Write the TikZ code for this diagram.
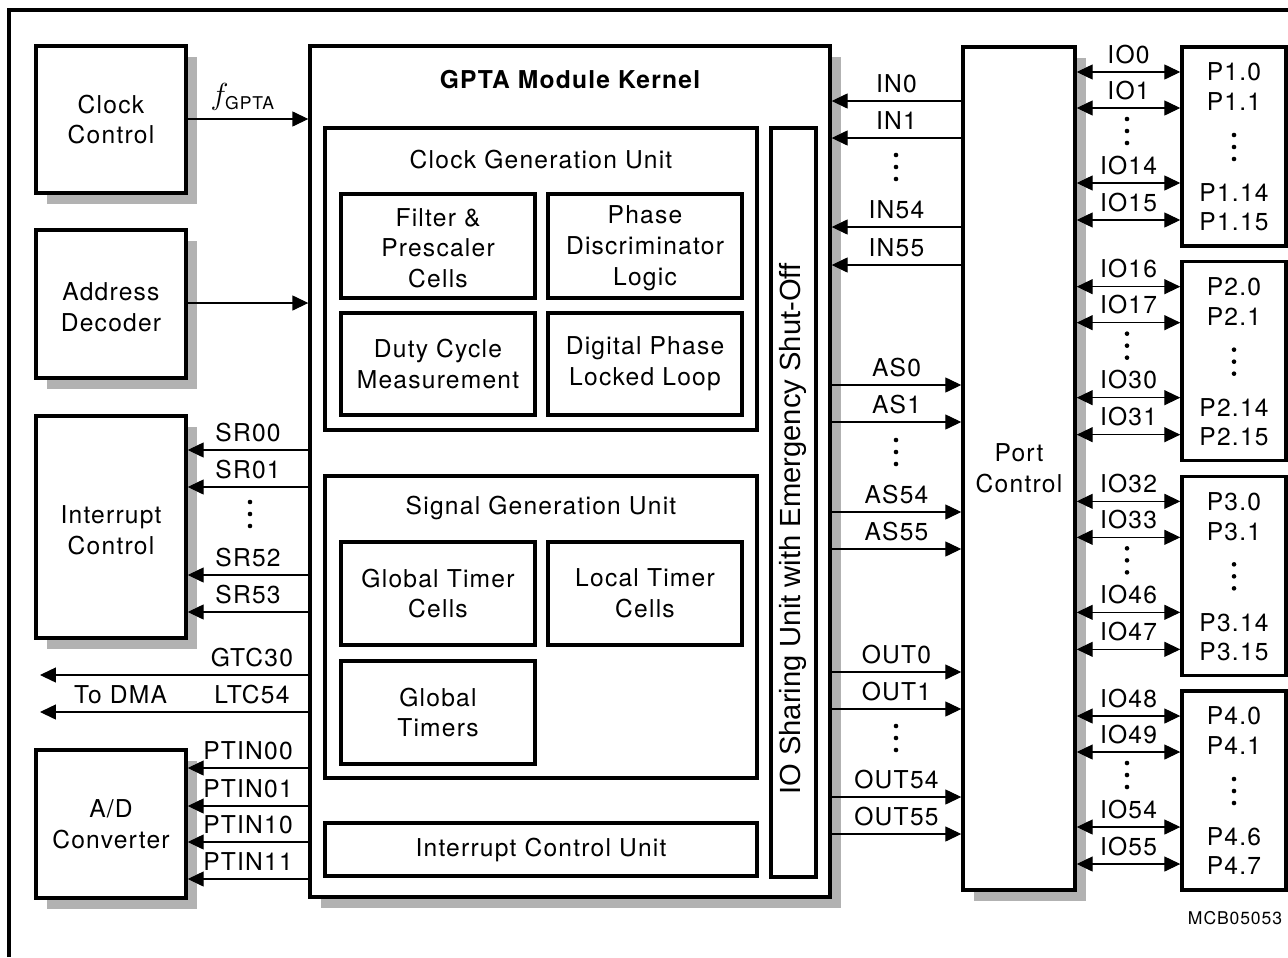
\documentclass[tikz,border=0pt]{standalone}
\usepackage{fontspec}
\setmainfont{TeX Gyre Heros}[LetterSpace=5]
\newfontfamily\iosfont{Liberation Sans}
\usetikzlibrary{arrows.meta,shadows}

\tikzset{
  blk/.style={draw, line width=2pt, fill=white, align=center, inner sep=0pt,
    font=\fontsize{14}{17.5}\selectfont},
  shd/.style={drop shadow={shadow xshift=0.22cm, shadow yshift=-0.22cm,
    fill=black!30, opacity=1}},
  sig/.style={line width=0.6pt, -{Triangle[length=9pt,width=8.5pt]}},
  bisig/.style={line width=0.6pt,
    {Triangle[length=9pt,width=8.5pt]}-{Triangle[length=9pt,width=8.5pt]}},
  lbl/.style={above, inner sep=0pt, yshift=4.5pt, font=\fontsize{14}{17}\selectfont},
  txt/.style={align=center, inner sep=0pt, font=\fontsize{14}{17.5}\selectfont},
}
% three stacked dots around (x,y)
\newcommand\vdotsat[2]{\fill (#1,#2-12) circle (2.3) (#1,#2) circle (2.3) (#1,#2+12) circle (2.3);}

\begin{document}
\begin{tikzpicture}[x=0.02cm, y=-0.02cm]
    \useasboundingbox (0,0) rectangle (1288,957);
    % Frame
    \draw[line width=1.8pt] (9,957) -- (9,10) -- (1288,10);

    % Left blocks
    \node[blk, shd, minimum width=3cm, minimum height=2.94cm] (clk) at (111,119.5) {Clock\\Control};
    \node[blk, shd, minimum width=3cm, minimum height=2.96cm] (adr) at (111,304) {};
    \node[txt] (adrt) at (111,307) {Address\\Decoder};
    \node[blk, shd, minimum width=3cm, minimum height=4.44cm] (intc) at (111,527) {};
    \node[txt] (intct) at (111,530) {Interrupt\\Control};
    \node[blk, shd, minimum width=3cm, minimum height=2.96cm] (adc) at (111,824) {A/D\\Converter};

    % GPTA kernel
    \node[blk, shd, minimum width=10.4cm, minimum height=17.02cm] (kern) at (570,471.5) {};
    \node[txt, font=\fontsize{14}{17}\selectfont\bfseries] (kernt) at (570,80) {GPTA Module Kernel};

    \node[blk, minimum width=8.64cm, minimum height=6.04cm] (cgu) at (541,279) {};
    \node[txt] (cgut) at (541,160) {Clock Generation Unit};
    \node[blk, minimum width=3.88cm, minimum height=2.08cm] (flt) at (438,246) {};
    \node[txt] (fltt) at (438,248) {Filter \&\\Prescaler\\Cells};
    \node[blk, minimum width=3.88cm, minimum height=2.08cm] (phd) at (645,246) {};
    \node[txt] (phdt) at (645,248) {Phase\\Discriminator\\Logic};
    \node[blk, minimum width=3.88cm, minimum height=2.04cm] (dcm) at (438,364) {Duty Cycle\\Measurement};
    \node[blk, minimum width=3.88cm, minimum height=2.04cm] (dpll) at (645,364) {Digital Phase\\Locked Loop};

    \node[blk, minimum width=8.64cm, minimum height=6.04cm] (sgu) at (541,627) {};
    \node[txt] (sgut) at (541,508) {Signal Generation Unit};
    \node[blk, minimum width=3.88cm, minimum height=2.06cm] (gtc) at (438,593.5) {Global Timer\\Cells};
    \node[blk, minimum width=3.88cm, minimum height=2.06cm] (ltc) at (645,593.5) {Local Timer\\Cells};
    \node[blk, minimum width=3.88cm, minimum height=2.06cm] (gt) at (438,712.5) {Global\\Timers};

    \node[blk, minimum width=8.64cm, minimum height=1.06cm] (icu) at (541,849.5) {Interrupt Control Unit};

    \node[blk, minimum width=0.9cm, minimum height=14.98cm] (ios) at (793.5,502.5) {};
    \node[rotate=90, inner sep=0pt, font=\iosfont\fontsize{16.6}{18}\selectfont] (iost) at (793,529)
        {IO Sharing Unit with Emergency Shut-Off};

    % Port control
    \node[blk, shd, minimum width=2.24cm, minimum height=16.86cm] (port) at (1019,468.5) {Port\\Control};

    % Clock and address
    \draw[sig] (clk.east |- 0,119) -- node[lbl, xshift=-3pt]
        {\fontsize{18}{18}\selectfont$f_{\mbox{\fontsize{10}{10}\selectfont GPTA}}$} (kern.west |- 0,119);
    \draw[sig] (adr.east |- 0,303) -- (kern.west |- 0,303);

    % Service requests
    \foreach \y/\t in {450/SR00, 487/SR01, 575/SR52, 612/SR53}
        \draw[sig] (kern.west |- 0,\y) -- node[lbl] {\t} (intc.east |- 0,\y);
    \vdotsat{250}{514}

    % DMA
    \coordinate (dma1) at (40,675);
    \coordinate (dma2) at (40,712);
    \draw[sig] (kern.west |- dma1) -- node[lbl, pos=0.21] {GTC30} (dma1);
    \draw[sig] (kern.west |- dma2) -- node[lbl, pos=0.21] {LTC54} node[lbl, pos=0.7] {To DMA} (dma2);

    % A/D triggers
    \foreach \y/\t in {768/PTIN00, 806/PTIN01, 842/PTIN10, 879/PTIN11}
        \draw[sig] (kern.west |- 0,\y) -- node[lbl] {\t} (adc.east |- 0,\y);

    % Kernel <-> port control
    \foreach \y/\t in {101/IN0, 138/IN1, 227/IN54, 265/IN55}
        \draw[sig] (port.west |- 0,\y) -- node[lbl] {\t} (kern.east |- 0,\y);
    \foreach \y/\t in {385/AS0, 422/AS1, 512/AS54, 549/AS55, 672/OUT0, 709/OUT1, 797/OUT54, 834/OUT55}
        \draw[sig] (kern.east |- 0,\y) -- node[lbl] {\t} (port.west |- 0,\y);
    \vdotsat{896}{167}
    \vdotsat{896}{452}
    \vdotsat{896}{738}

    % Ports
    \foreach \k/\pa/\pb/\pc/\pd/\ia/\ib/\ic/\id in
        {0/1.0/1.1/1.14/1.15/0/1/14/15, 1/2.0/2.1/2.14/2.15/16/17/30/31,
         2/3.0/3.1/3.14/3.15/32/33/46/47, 3/4.0/4.1/4.6/4.7/48/49/54/55} {
        \pgfmathsetmacro\g{214.67*\k}
        \node[blk, minimum width=2.08cm, minimum height=3.98cm] (p\k) at (1234,146.5+\g) {};
        \node[txt] (pa\k) at (1234,72+\g) {P\pa};
        \node[txt] (pb\k) at (1234,102+\g) {P\pb};
        \vdotsat{1234}{147+\g}
        \node[txt] (pc\k) at (1234,193+\g) {P\pc};
        \node[txt] (pe\k) at (1234,222+\g) {P\pd};
        \draw[bisig] (port.east |- 0,72+\g) -- node[lbl] {IO\ia} (p\k.west |- 0,72+\g);
        \draw[bisig] (port.east |- 0,108+\g) -- node[lbl] {IO\ib} (p\k.west |- 0,108+\g);
        \vdotsat{1127}{131+\g}
        \draw[bisig] (port.east |- 0,183+\g) -- node[lbl] {IO\ic} (p\k.west |- 0,183+\g);
        \draw[bisig] (port.east |- 0,220+\g) -- node[lbl] {IO\id} (p\k.west |- 0,220+\g);
    }

    \node[font=\fontsize{10}{12}\selectfont, inner sep=0pt] (mcb) at (1235,918) {MCB05053};
\end{tikzpicture}
\end{document}
